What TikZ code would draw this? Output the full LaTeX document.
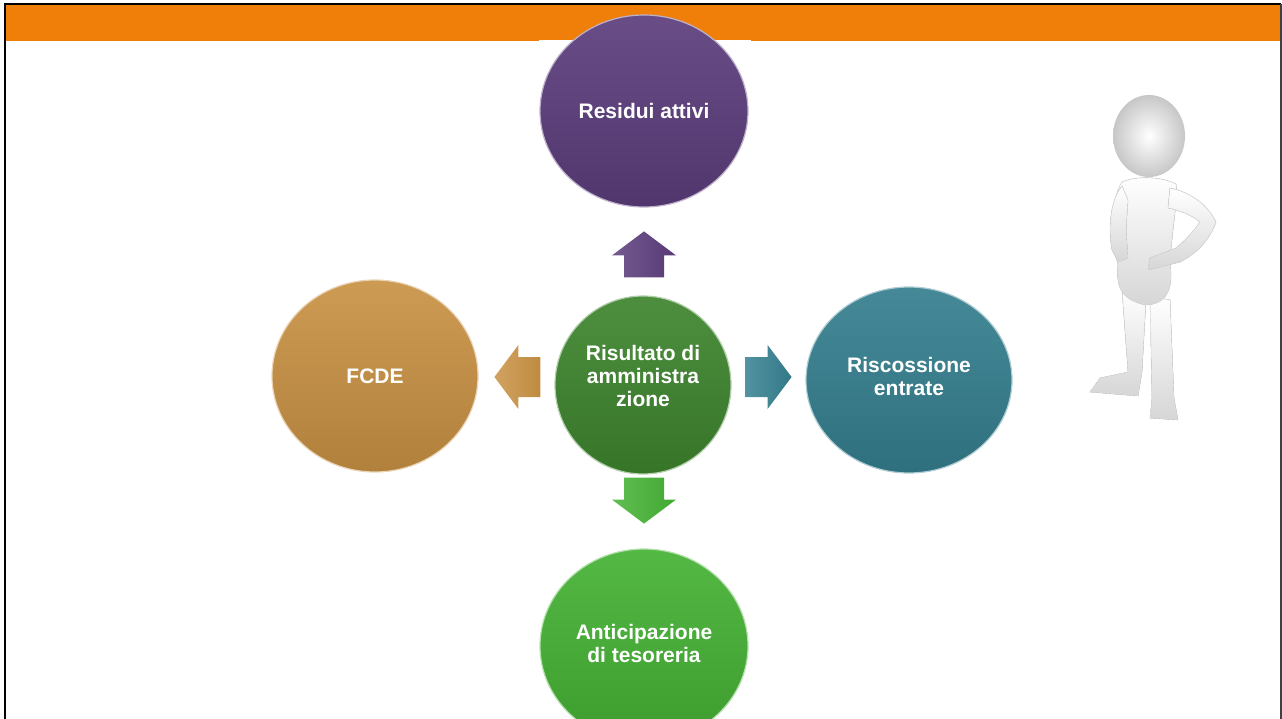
\documentclass[tikz,border=0pt]{standalone}
\usepackage{fontspec}
\setmainfont{Liberation Sans}
\usetikzlibrary{shapes.geometric,calc}

\definecolor{bandorange}{HTML}{F07F09}
\definecolor{resPurple}{HTML}{5C3D7C}
\definecolor{midGreen}{HTML}{3E852E}
\definecolor{fcdeGold}{HTML}{C99244}
\definecolor{risTeal}{HTML}{357F8F}
\definecolor{antGreen}{HTML}{45B234}

\tikzset{
  bubble/.style n args={1}{ellipse, inner sep=0pt, align=center,
    text=white, font=\bfseries\fontsize{21}{23}\selectfont,
    top color=#1!92!white, bottom color=#1!88!black,
    draw=#1!40!white, line width=1.2pt},
  blockarr/.pic={
    \path[pic actions] (0,-20) -- (22,-20) -- (22,-32) -- (46,0)
      -- (22,32) -- (22,20) -- (0,20) -- cycle;
  },
  skin/.style={top color=white, bottom color=black!16, draw=black!14, line width=0.6pt},
}

\begin{document}
\begin{tikzpicture}[x=1pt,y=-1pt]
  \useasboundingbox (0,0) rectangle (1282,719);

  % slide frame and header band
  \fill[bandorange] (5,4) rectangle (1281,41);
  \draw[black, line width=2pt] (5,724) -- (5,4) -- (1281,4);
  \draw[black!75, line width=1.2pt] (1281,4) -- (1281,724);
  \fill[white] (539,40) rectangle (751,42.5);

  % the five bubbles
  \node[bubble=resPurple, minimum width=208, minimum height=192] (res) at (644,111) {Residui attivi};
  \node[bubble=midGreen, minimum width=176, minimum height=178, text depth=18pt] (mid) at (643,385) {Risultato di\\amministra\\zione};
  \node[bubble=fcdeGold, minimum width=206, minimum height=192] (fcde) at (375,376) {FCDE};
  \node[bubble=risTeal, minimum width=206, minimum height=186, text depth=8pt] (ris) at (909,380) {Riscossione\\entrate};
  \node[bubble=antGreen, minimum width=208, minimum height=194, text depth=6pt] (ant) at (644,646) {Anticipazione\\di tesoreria};

  % block arrows from the centre towards each bubble
  \path ($(mid.north)+(1,-18)$) pic[rotate=90, left color=resPurple!85!white, right color=resPurple!95!black] {blockarr};
  \path ($(mid.south)+(1,3)$) pic[rotate=-90, left color=antGreen!85!white, right color=antGreen!95!black] {blockarr};
  \path ($(mid.west)+(-14,-8)$) pic[rotate=180, left color=fcdeGold!85!white, right color=fcdeGold!95!black] {blockarr};
  \path ($(mid.east)+(14,-8)$) pic[left color=risTeal!85!white, right color=risTeal!95!black] {blockarr};

  % standing figure
  \begin{scope}
    % legs
    \fill[skin] (1122,290) -- (1128,372) -- (1100,378) -- (1090,392) -- (1138,396) -- (1142,372) -- (1146,300) -- cycle;
    \fill[skin] (1150,296) -- (1152,398) -- (1150,418) -- (1178,420) -- (1174,398) -- (1170,300) -- cycle;
    % torso
    \fill[skin] (1122,182) .. controls (1110,200) and (1112,240) .. (1118,265)
      .. controls (1116,285) and (1120,300) .. (1146,305)
      .. controls (1166,304) and (1174,290) .. (1170,262)
      .. controls (1172,230) and (1178,200) .. (1176,184)
      .. controls (1160,176) and (1136,176) .. (1122,182) -- cycle;
    % bent arm to the hip
    \fill[skin] (1170,188) .. controls (1190,192) and (1208,205) .. (1216,222)
      .. controls (1210,240) and (1195,255) .. (1180,262)
      -- (1148,270) -- (1150,258) -- (1176,248)
      .. controls (1188,238) and (1196,228) .. (1200,222)
      .. controls (1190,214) and (1178,210) .. (1168,208) -- cycle;
    % other arm with hand on the hip
    \fill[skin] (1122,186) .. controls (1110,200) and (1108,230) .. (1112,250)
      -- (1118,262) -- (1128,258) -- (1126,230) -- (1128,200) -- cycle;
    % head
    \shade[inner color=white, outer color=black!22] (1149,136) ellipse (36 and 41);
  \end{scope}
\end{tikzpicture}
\end{document}
